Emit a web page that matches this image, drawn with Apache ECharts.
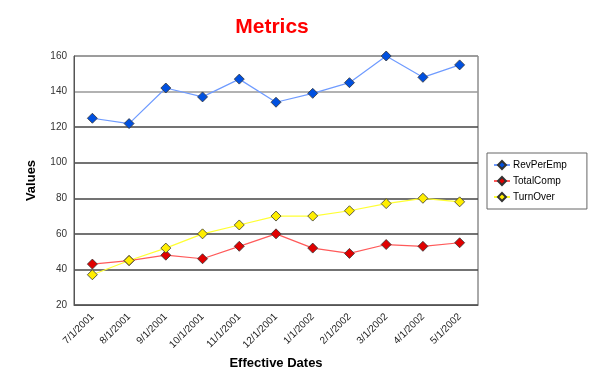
<!DOCTYPE html>
<html>
<head>
<meta charset="utf-8">
<script src="https://cdn.jsdelivr.net/npm/echarts@6/dist/echarts.min.js"></script>
<style>
  html, body { margin: 0; padding: 0; background: #fff; }
  #chart { width: 600px; height: 367px; }
</style>
</head>
<body>
<div id="chart"></div>
<script>
// Effective dates along the category axis
const dates = ['7/1/2001', '8/1/2001', '9/1/2001', '10/1/2001', '11/1/2001', '12/1/2001',
               '1/1/2002', '2/1/2002', '3/1/2002', '4/1/2002', '5/1/2002'];

// Monthly metric values
const revPerEmp = [125, 122, 142, 137, 147, 134, 139, 145, 160, 148, 155];
const totalComp = [43, 45, 48, 46, 53, 60, 52, 49, 54, 53, 55];
const turnOver  = [37, 45, 52, 60, 65, 70, 70, 73, 77, 80, 78];

// Value axis ticks
const yTicks = [20, 40, 60, 80, 100, 120, 140, 160];

const FONT = '"Liberation Sans", Arial, sans-serif';
const NARROW = '"Liberation Sans Narrow", "Liberation Sans", Arial, sans-serif';

function lineSeries(name, data, lineColor, markerColor) {
  return {
    name: name,
    type: 'line',
    data: data,
    symbol: 'diamond',
    symbolSize: 10,
    showAllSymbol: true,
    lineStyle: { color: lineColor, width: 1.2 },
    itemStyle: { color: markerColor, borderColor: '#333', borderWidth: 0.8 },
    emphasis: { disabled: true }
  };
}

const chart = echarts.init(document.getElementById('chart'), null, { renderer: 'canvas' });
chart.setOption({
  animation: false,
  backgroundColor: '#fff',
  title: {
    text: 'Metrics',
    left: 267,
    top: 12,
    textAlign: 'center',
    textStyle: { color: '#ff0000', fontSize: 21, fontWeight: 'bold', fontFamily: FONT }
  },
  grid: {
    left: 74, right: 122, top: 56, bottom: 62,
    containLabel: false,
    outerBoundsMode: 'none',
    show: true, borderColor: '#555', borderWidth: 1, backgroundColor: '#fff'
  },
  legend: {
    orient: 'vertical',
    left: 487, top: 153,
    width: 100,
    padding: [7, 20, 7, 6],
    itemGap: 6,
    itemWidth: 16, itemHeight: 10,
    borderColor: '#666', borderWidth: 1, borderRadius: 0,
    textStyle: { fontSize: 10, fontFamily: FONT, color: '#000', padding: [0, 0, 0, -2] },
    data: ['RevPerEmp', 'TotalComp', 'TurnOver']
  },
  xAxis: {
    type: 'category',
    data: dates,
    boundaryGap: true,
    name: 'Effective Dates',
    nameLocation: 'middle',
    nameGap: 46,
    nameTextStyle: { fontSize: 13, fontWeight: 'bold', fontFamily: FONT, color: '#000' },
    axisLine: { lineStyle: { color: '#555' } },
    axisTick: { show: false },
    axisLabel: { rotate: 45, fontSize: 10, fontFamily: NARROW, color: '#222', margin: 10, interval: 0 }
  },
  yAxis: {
    type: 'value',
    min: yTicks[0], max: yTicks[yTicks.length - 1], interval: 20,
    name: 'Values',
    nameLocation: 'middle',
    nameGap: 36,
    nameTextStyle: { fontSize: 13, fontWeight: 'bold', fontFamily: FONT, color: '#000' },
    axisLine: { show: true, lineStyle: { color: '#555' } },
    axisTick: { show: false },
    axisLabel: { fontSize: 10, fontFamily: FONT, color: '#333', margin: 7 },
    splitLine: {
      show: true,
      lineStyle: { color: ['#555', '#444', '#444', '#444', '#444', '#444', '#999', '#999'], width: 1.5 }
    }
  },
  series: [
    lineSeries('RevPerEmp', revPerEmp, '#6f9bff', '#0050e0'),
    lineSeries('TotalComp', totalComp, '#ff5a5a', '#e00000'),
    lineSeries('TurnOver', turnOver, '#ffff33', '#ffee00')
  ]
});
</script>
</body>
</html>
